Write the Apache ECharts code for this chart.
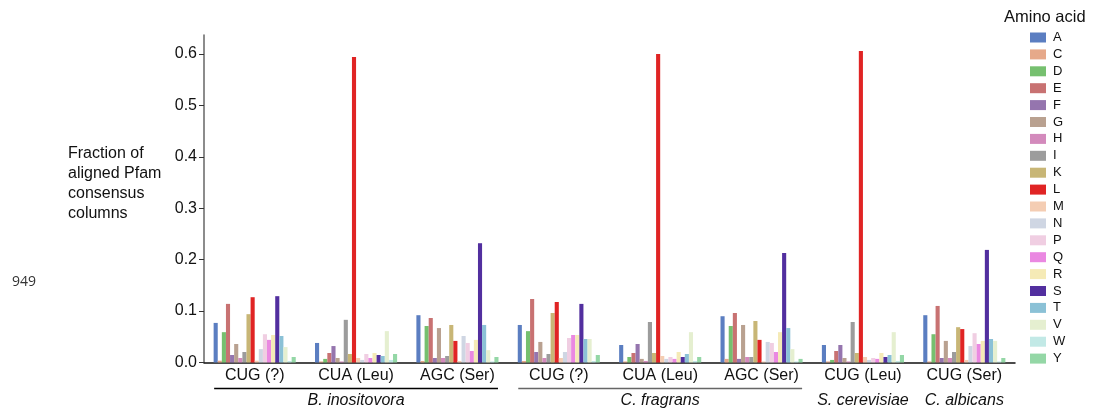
<!DOCTYPE html>
<html>
<head>
<meta charset="utf-8">
<script src="https://cdn.jsdelivr.net/npm/echarts@6/dist/echarts.min.js"></script>
<style>
html,body{margin:0;padding:0;background:#fff;}
#chart{width:1097px;height:413px;}
</style>
</head>
<body>
<div id="chart"></div>
<script>
const categories = ['CUG (?)', 'CUA (Leu)', 'AGC (Ser)', 'CUG (?)', 'CUA (Leu)', 'AGC (Ser)', 'CUG (Leu)', 'CUG (Ser)'];
const species = [
  { name: 'B. inositovora', from: 0, to: 2, underline: '#000' },
  { name: 'C. fragrans', from: 3, to: 5, underline: '#666' },
  { name: 'S. cerevisiae', from: 6, to: 6, underline: null },
  { name: 'C. albicans', from: 7, to: 7, underline: null }
];
const yTicks = [0, 0.1, 0.2, 0.3, 0.4, 0.5, 0.6];
const aminoAcids = ['A','C','D','E','F','G','H','I','K','L','M','N','P','Q','R','S','T','V','W','Y'];
const colors = ['#5b7ec1','#e6a98a','#76c06f','#c87272','#9575ae','#b9a190','#d38abc','#9c9c9c','#c8b676','#e02424',
                '#f4cdb3','#cfd6e3','#f0cee2','#ea88e1','#f5eab6','#522f9f','#8bc1d6','#e5efd0','#c2e9e6','#94d7a6'];

// values per amino acid, in category order
const vA = [0.077, 0.038, 0.092, 0.073, 0.034, 0.090, 0.034, 0.092];
const vC = [0.0035, 0.002, 0.003, 0.003, 0.002, 0.007, 0.002, 0.002];
const vD = [0.059, 0.007, 0.071, 0.061, 0.0107, 0.071, 0.005, 0.055];
const vE = [0.114, 0.0185, 0.0866, 0.1235, 0.0185, 0.0963, 0.0224, 0.110];
const vF = [0.0146, 0.032, 0.0088, 0.0204, 0.036, 0.007, 0.034, 0.0088];
const vG = [0.036, 0.0088, 0.067, 0.040, 0.007, 0.073, 0.0088, 0.042];
const vH = [0.0088, 0.002, 0.0088, 0.0088, 0.003, 0.0107, 0.002, 0.0088];
const vI = [0.0204, 0.083, 0.0127, 0.0165, 0.0788, 0.0107, 0.0788, 0.0204];
const vK = [0.094, 0.0165, 0.073, 0.0963, 0.0185, 0.0807, 0.0185, 0.0687];
const vL = [0.127, 0.594, 0.042, 0.1177, 0.600, 0.044, 0.606, 0.065];
const vM = [0.0035, 0.0088, 0.003, 0.0088, 0.0127, 0.002, 0.0107, 0.005];
const vN = [0.026, 0.005, 0.0516, 0.0204, 0.007, 0.040, 0.005, 0.032];
const vP = [0.055, 0.0165, 0.038, 0.0477, 0.0107, 0.038, 0.0088, 0.057];
const vQ = [0.044, 0.0088, 0.0224, 0.0535, 0.007, 0.0204, 0.007, 0.036];
const vR = [0.0535, 0.0185, 0.044, 0.0535, 0.0204, 0.059, 0.0185, 0.042];
const vS = [0.129, 0.0146, 0.232, 0.114, 0.0107, 0.213, 0.0107, 0.219];
const vT = [0.0516, 0.0127, 0.073, 0.0457, 0.0165, 0.067, 0.0146, 0.0457];
const vV = [0.030, 0.061, 0.024, 0.0457, 0.059, 0.026, 0.059, 0.042];
const vW = [0.003, 0.005, 0.002, 0.003, 0.003, 0.002, 0.003, 0.002];
const vY = [0.0107, 0.0165, 0.0107, 0.0146, 0.0107, 0.007, 0.0146, 0.0088];
const seriesValues = [vA,vC,vD,vE,vF,vG,vH,vI,vK,vL,vM,vN,vP,vQ,vR,vS,vT,vV,vW,vY];

const FONT = '"Liberation Sans", Arial, sans-serif';
const chart = echarts.init(document.getElementById('chart'), null, { renderer: 'canvas' });

const option = {
  animation: false,
  backgroundColor: '#fff',
  color: colors,
  grid: { left: 204, right: 82, top: 35, bottom: 50.5, containLabel: false },
  legend: {
    orient: 'vertical',
    left: 1030,
    top: 31,
    padding: 0,
    itemWidth: 16,
    itemHeight: 10,
    itemGap: 3.9,
    icon: 'rect',
    data: aminoAcids,
    textStyle: { fontFamily: FONT, fontSize: 13, color: '#111', lineHeight: 13, padding: [0, 0, 0, 2] }
  },
  xAxis: {
    type: 'category',
    data: categories,
    axisLine: { lineStyle: { color: '#111', width: 1.5 } },
    axisTick: { show: false },
    axisLabel: { fontFamily: FONT, fontSize: 16, color: '#111', margin: 5, interval: 0 }
  },
  yAxis: {
    type: 'value',
    min: 0,
    max: 0.637,
    splitLine: { show: false },
    axisLine: { show: true, lineStyle: { color: '#666', width: 1.5 } },
    axisTick: { show: true, length: 5, customValues: yTicks, lineStyle: { color: '#333', width: 1 } },
    axisLabel: {
      customValues: yTicks,
      fontFamily: FONT, fontSize: 16, color: '#111', margin: 7,
      formatter: v => v.toFixed(1)
    }
  },
  series: aminoAcids.map((aa, i) => ({
    name: aa,
    type: 'bar',
    data: seriesValues[i],
    barGap: '0%',
    barCategoryGap: '19%',
    itemStyle: { color: colors[i] }
  }))
};
chart.setOption(option);

// annotations positioned through the axis scale
const cx = i => chart.convertToPixel({ xAxisIndex: 0 }, i);
const band = cx(1) - cx(0);
const graphics = [
  { type: 'text', left: 68, top: 144, style: { text: 'Fraction of\naligned Pfam\nconsensus\ncolumns', font: '16px ' + FONT, fill: '#111', lineHeight: 20 } },
  { type: 'text', left: 12, top: 275, style: { text: '949', font: '14px "Open Sans", sans-serif', fill: '#333' } },
  { type: 'text', left: 1004, top: 9, style: { text: 'Amino acid', font: '16.5px ' + FONT, fill: '#111' } }
];
species.forEach(s => {
  const x0 = cx(s.from) - band * 0.4;
  const x1 = cx(s.to) + band * 0.4;
  if (s.underline) {
    graphics.push({ type: 'line', shape: { x1: x0, y1: 388.5, x2: x1, y2: 388.5 }, style: { stroke: s.underline, lineWidth: 1.5 } });
  }
  graphics.push({ type: 'text', x: (x0 + x1) / 2, y: 401, style: { text: s.name, font: 'italic 16px ' + FONT, fill: '#111', align: 'center', verticalAlign: 'middle' } });
});
chart.setOption({ graphic: graphics });
</script>
</body>
</html>
